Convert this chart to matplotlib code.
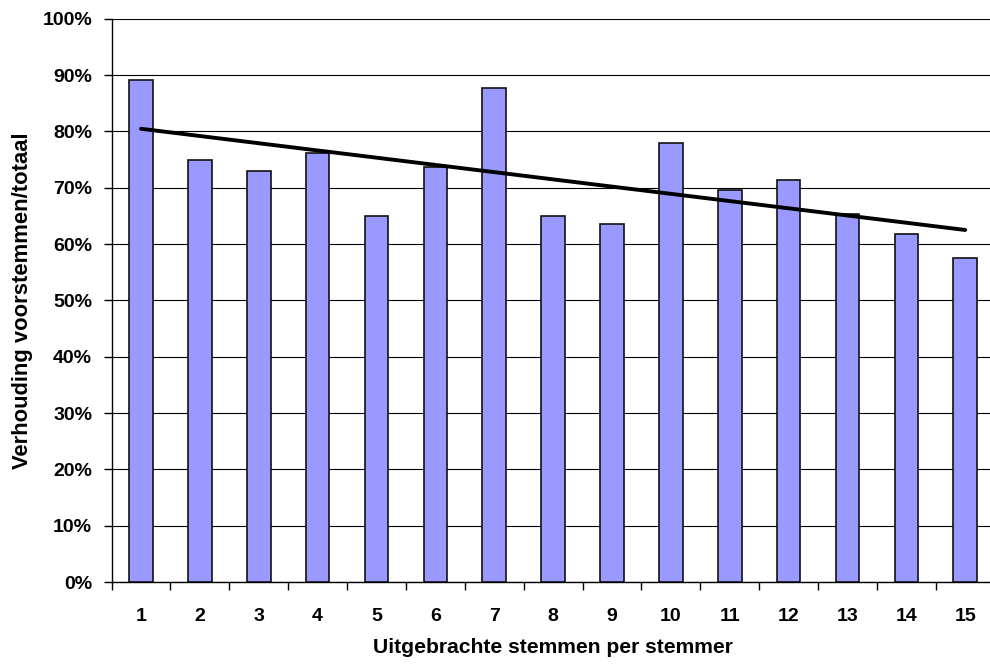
import numpy as np
import matplotlib
matplotlib.use("Agg")
import matplotlib.pyplot as plt
from matplotlib.ticker import PercentFormatter, FixedLocator

# stemmen per stemmer vs. aandeel voorstemmen
categories = [str(i) for i in range(1, 16)]
ratio = [89.2, 75.0, 73.0, 76.2, 65.0, 73.7, 87.75, 65.0,
         63.6, 78.0, 69.6, 71.4, 65.4, 61.8, 57.6]

plt.rcParams['font.family'] = ['Liberation Sans', 'DejaVu Sans']
plt.rcParams['font.weight'] = 'bold'

fig = plt.figure(figsize=(9.9, 6.65), dpi=100)
ax = fig.add_axes([0.1127, 0.1248, 0.892, 0.847])

x = np.arange(len(categories))
ax.bar(x, ratio, width=0.4, color='#9999FF', edgecolor='#111111', linewidth=1.2, zorder=3)

# lineaire trendlijn
k, b = np.polyfit(x, ratio, 1)
ax.plot(x[[0, -1]], k * x[[0, -1]] + b, color='black', lw=2.8, solid_capstyle='round', zorder=4)

ax.set_xlim(-0.5, len(categories) - 0.5)
ax.set_ylim(0, 100)
ax.set_yticks(np.arange(0, 101, 10))
ax.yaxis.set_major_formatter(PercentFormatter(decimals=0))
ax.grid(axis='y', color='black', lw=0.8, zorder=0)

ax.set_xticks(x)
ax.set_xticklabels(categories)
ax.xaxis.set_minor_locator(FixedLocator(np.arange(-0.5, len(categories), 1)))
ax.tick_params(axis='x', which='major', length=0, pad=19, labelsize=14)
ax.tick_params(axis='x', which='minor', length=6, width=1, direction='out')
ax.tick_params(axis='y', length=6, width=1, direction='out', labelsize=14, pad=8)

for s in ['top', 'right']:
    ax.spines[s].set_visible(False)
ax.spines['left'].set_linewidth(1)
ax.spines['bottom'].set_linewidth(1)

ax.set_xlabel('Uitgebrachte stemmen per stemmer', fontsize=15.2, fontweight='bold', labelpad=9)
ax.set_ylabel('Verhouding voorstemmen/totaal', fontsize=15.8, fontweight='bold', labelpad=7)

fig.savefig('out.png', dpi=100)
